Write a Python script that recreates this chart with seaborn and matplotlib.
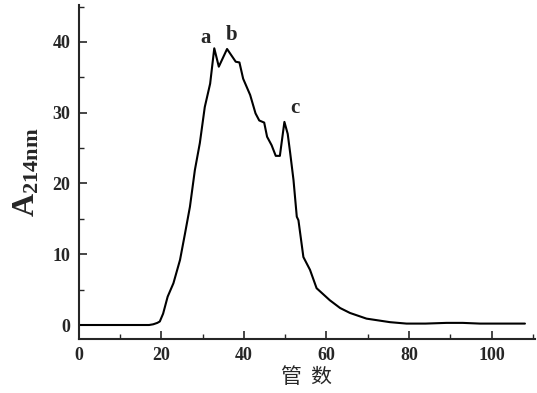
import matplotlib
matplotlib.use("Agg")
import matplotlib.pyplot as plt
import numpy as np
import pandas as pd
import seaborn as sns
from matplotlib.ticker import MultipleLocator

# tube number vs absorbance at 214 nm
tube = [0, 5, 10, 15, 17, 18, 19, 19.6, 20.4, 21.5, 22.9, 24.5, 25.7, 26.9, 28.1,
        29.3, 30.5, 31.8, 32.8, 33.9, 35.9, 38.0, 38.9, 39.8, 41.5, 42.8, 43.7,
        44.9, 45.6, 46.7, 47.7, 48.7, 49.8, 50.6, 51.2, 52.0, 52.8, 53.2, 54.4,
        56.0, 57.6, 60.8, 63.3, 65.7, 69.7, 75.4, 79.4, 84, 89.1, 93, 97.2, 103, 108.1]
a214 = [0, 0, 0, 0, 0, 0.1, 0.3, 0.5, 1.6, 4.0, 5.9, 9.2, 12.9, 16.7, 21.9,
        25.7, 30.8, 34.1, 39.1, 36.5, 39.0, 37.2, 37.1, 34.8, 32.5, 29.9, 28.9,
        28.6, 26.6, 25.4, 23.9, 23.9, 28.7, 27.0, 24.3, 20.5, 15.3, 14.8, 9.6,
        7.8, 5.2, 3.5, 2.4, 1.7, 0.9, 0.4, 0.2, 0.2, 0.3, 0.3, 0.2, 0.2, 0.2]

peak_labels = ["a", "b", "c"]
peak_x = [30.8, 37.1, 52.4]
peak_y = [40.5, 41.0, 30.6]

df = pd.DataFrame({"tube": tube, "A214": a214})

sns.set_style("ticks")
plt.rcParams["font.family"] = ["Liberation Serif", "DejaVu Serif"]
plt.rcParams["font.weight"] = "bold"
plt.rcParams["mathtext.fontset"] = "custom"
plt.rcParams["mathtext.rm"] = "Liberation Serif:bold"
plt.rcParams["mathtext.bf"] = "Liberation Serif:bold"
plt.rcParams["mathtext.it"] = "Liberation Serif:bold"

fig = plt.figure(figsize=(5.37, 3.93), dpi=100)
ax = fig.add_axes([0.147, 0.137, 0.849, 0.850])

sns.lineplot(data=df, x="tube", y="A214", color="black", linewidth=1.5, ax=ax)

for lab, px, py in zip(peak_labels, peak_x, peak_y):
    ax.text(px, py, lab, fontsize=15, fontweight="bold", ha="center", va="center")

ax.set_xlim(0, 110.5)
ax.set_ylim(-2, 45.2)
ax.xaxis.set_major_locator(MultipleLocator(20))
ax.xaxis.set_minor_locator(MultipleLocator(10))
ax.yaxis.set_major_locator(MultipleLocator(10))
ax.yaxis.set_minor_locator(MultipleLocator(5))
ax.tick_params(which="major", direction="in", length=6, width=1.2, labelsize=13, pad=6)
ax.tick_params(which="minor", direction="in", length=3.5, width=1.0)
for t in ax.get_xticklabels() + ax.get_yticklabels():
    t.set_fontweight("bold")

for side in ["top", "right"]:
    ax.spines[side].set_visible(False)
for side in ["left", "bottom"]:
    ax.spines[side].set_linewidth(1.5)

ax.set_ylabel(r"$\mathrm{A}_{\mathrm{214nm}}$", fontsize=23, labelpad=8)
ax.set_xlabel("管  数", fontsize=15, family=["Noto Sans CJK SC", "DejaVu Sans"], labelpad=1)

fig.savefig("out.png", dpi=100)
